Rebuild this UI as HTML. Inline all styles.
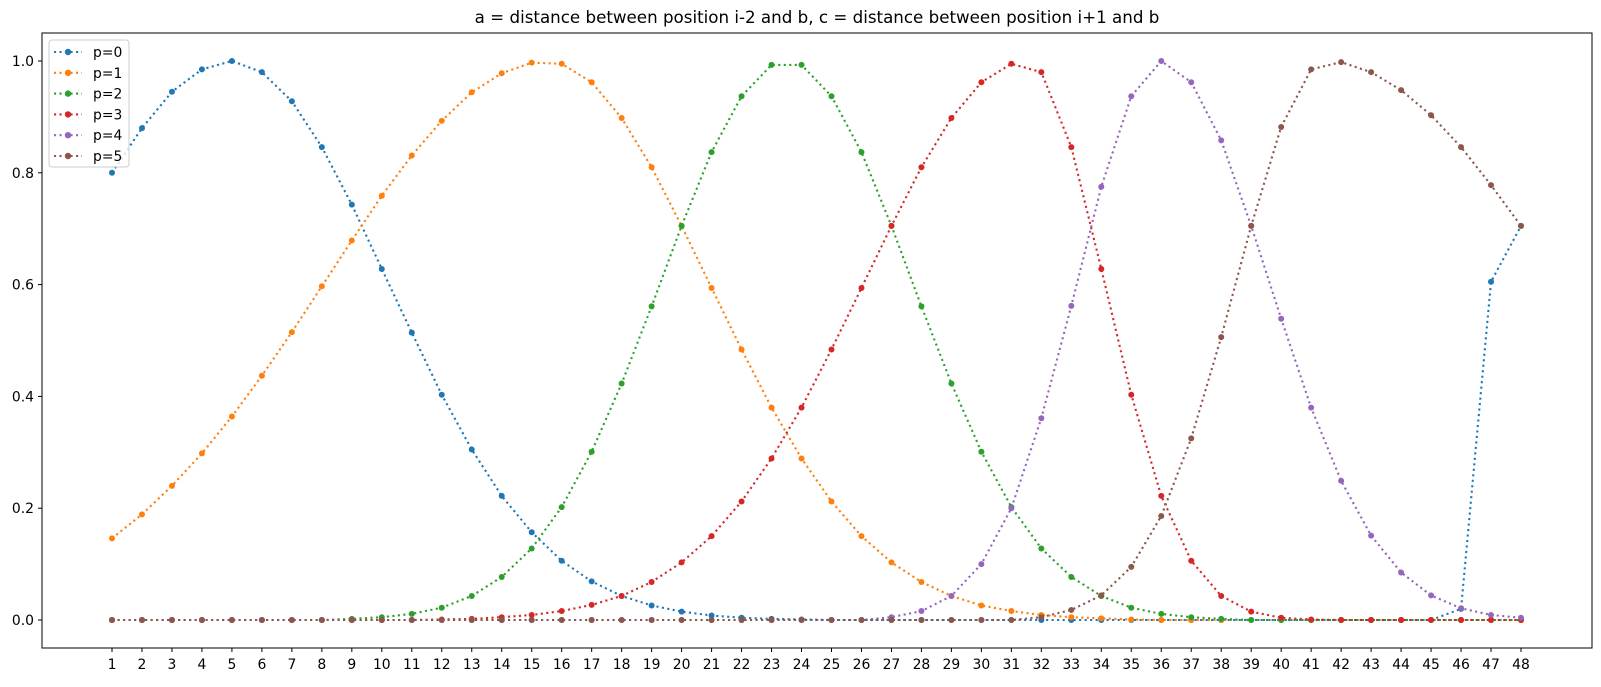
<!DOCTYPE html>
<html><head><meta charset="utf-8"><style>
body{margin:0;background:#fff}
svg text{font-family:"DejaVu Sans","Liberation Sans",sans-serif}
</style></head><body>
<svg id="chart" width="1601" height="682" xmlns="http://www.w3.org/2000/svg">
<rect width="1601" height="682" fill="#fff"/>
<text x="817" y="23" font-size="16.7" text-anchor="middle">a = distance between position i-2 and b, c = distance between position i+1 and b</text>
<g id="series"></g>
<g id="axes"></g>
<g id="legend"></g>
</svg>
<script>
const categories=[];for(let i=1;i<=48;i++)categories.push(i);
const p0=[0.80,0.88,0.945,0.985,1.0,0.98,0.928,0.846,0.743,0.628,0.514,0.403,0.305,0.222,0.157,0.106,0.069,0.043,0.026,0.015,0.008,0.004,0.002,0.001,0,0,0,0,0,0,0,0,0,0,0,0,0,0,0,0,0,0,0,0,0,0.02,0.605,0.705];
const p1=[0.146,0.189,0.240,0.298,0.364,0.437,0.515,0.597,0.679,0.759,0.831,0.893,0.944,0.978,0.997,0.995,0.962,0.898,0.810,0.705,0.594,0.484,0.380,0.289,0.212,0.150,0.103,0.068,0.043,0.026,0.016,0.009,0.005,0.003,0.001,0,0,0,0,0,0,0,0,0,0,0,0,0];
const p2=[0,0,0,0,0,0,0,0,0.002,0.005,0.011,0.022,0.043,0.077,0.128,0.202,0.301,0.423,0.561,0.705,0.837,0.937,0.993,0.993,0.937,0.837,0.705,0.561,0.423,0.301,0.202,0.128,0.077,0.043,0.022,0.011,0.005,0.002,0,0,0,0,0,0,0,0,0,0];
const p3=[0,0,0,0,0,0,0,0,0,0,0,0.001,0.002,0.005,0.009,0.016,0.027,0.043,0.068,0.103,0.150,0.212,0.289,0.380,0.484,0.594,0.705,0.810,0.898,0.962,0.995,0.980,0.846,0.628,0.403,0.222,0.106,0.043,0.015,0.004,0.001,0,0,0,0,0,0,0];
const p4=[0,0,0,0,0,0,0,0,0,0,0,0,0,0,0,0,0,0,0,0,0,0,0,0,0,0,0.005,0.016,0.043,0.1,0.2,0.361,0.562,0.775,0.937,1.0,0.962,0.858,0.705,0.539,0.38,0.249,0.151,0.085,0.044,0.021,0.009,0.004];
const p5=[0,0,0,0,0,0,0,0,0,0,0,0,0,0,0,0,0,0,0,0,0,0,0,0,0,0,0,0,0,0,0,0.005,0.018,0.044,0.095,0.186,0.325,0.506,0.705,0.882,0.985,0.998,0.98,0.948,0.903,0.846,0.778,0.705];
const seriesNames=["p=0","p=1","p=2","p=3","p=4","p=5"];
const seriesValues=[p0,p1,p2,p3,p4,p5];
const colors=["#1f77b4","#ff7f0e","#2ca02c","#d62728","#9467bd","#8c564b"];
const yTicks=[0.0,0.2,0.4,0.6,0.8,1.0];
const NS="http://www.w3.org/2000/svg";
const L=42,R=1592,T=33,B=648;
const X=v=>112+(v-1)*(1521-112)/47;
const Y=v=>620-v*559;
function el(t,a,p){const e=document.createElementNS(NS,t);for(const k in a)e.setAttribute(k,a[k]);p.appendChild(e);return e;}
const sg=document.getElementById('series'),ag=document.getElementById('axes'),lg=document.getElementById('legend');
seriesValues.forEach((vals,si)=>{
  const g=el('g',{},sg);
  
  
  const pl=el('polyline',{points:vals.map((v,i)=>X(categories[i])+','+Y(v)).join(' '),fill:'none',stroke:colors[si],'stroke-width':2.1,'stroke-dasharray':'2.1,3.4'},g);
  
  
  vals.forEach((v,i)=>{
    const c=el('circle',{cx:X(categories[i]),cy:Y(v),r:3,fill:colors[si]},g);
    
    
  });
});
const frame=el('rect',{x:L,y:T,width:R-L,height:B-T,fill:'none',stroke:'#000','stroke-width':1},ag);


categories.forEach(c=>{
  el('line',{x1:X(c),x2:X(c),y1:B,y2:B+4,stroke:'#000'},ag);
  const t=el('text',{x:X(c),y:B+21,'font-size':13.9,'text-anchor':'middle'},ag);
  t.textContent=c;
  
  
});
yTicks.forEach(v=>{
  el('line',{x1:L-4,x2:L,y1:Y(v),y2:Y(v),stroke:'#000'},ag);
  const t=el('text',{x:L-8,y:Y(v)+5,'font-size':13.9,'text-anchor':'end'},ag);
  t.textContent=v.toFixed(1);
  
  
});
const box=el('rect',{x:49,y:40,width:80,height:127,rx:3,fill:'#fff','fill-opacity':0.8,stroke:'#ccc'},lg);


seriesNames.forEach((n,i)=>{
  const y=52+i*20.8;
  const g=el('g',{},lg);
  
  
  el('line',{x1:54,x2:82,y1:y,y2:y,stroke:colors[i],'stroke-width':2.1,'stroke-dasharray':'2.1,3.4'},g);
  el('circle',{cx:68,cy:y,r:3.2,fill:colors[i]},g);
  const t=el('text',{x:93,y:y+5,'font-size':13.9},g);
  t.textContent=n;
});
</script>
</body></html>
